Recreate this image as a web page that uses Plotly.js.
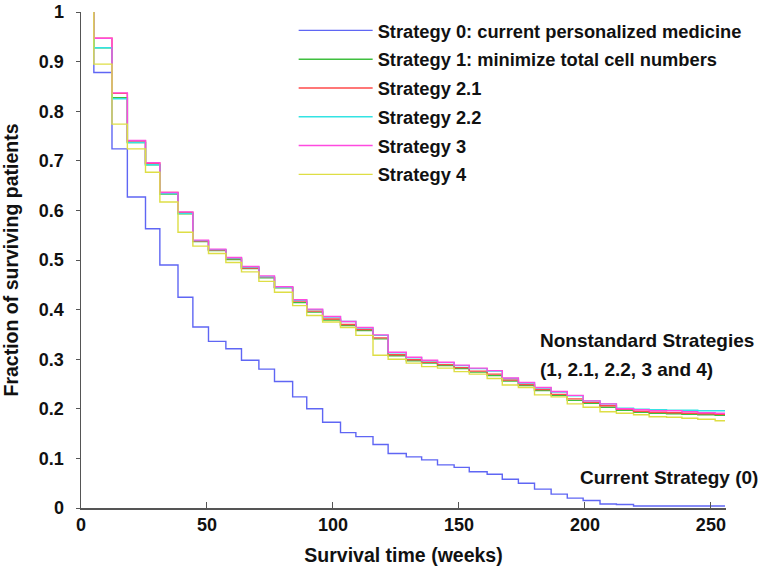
<!DOCTYPE html>
<html>
<head>
<meta charset="utf-8">
<script src="https://cdn.plot.ly/plotly-3.0.1.min.js"></script>
<style>html,body{margin:0;padding:0;background:#fff;}#chart{width:775px;height:569px;}</style>
</head>
<body>
<div id="chart"></div>
<script>
// Step times (weeks) at which the survival fraction changes
const weeks = [5.1, 12.3, 18.4, 25.6, 31.3, 38.5, 44.4, 50.6, 57.5, 63.7, 70.6, 76.8, 84.0, 89.6, 95.9, 103.0, 109.1, 115.9, 121.9, 129.1, 135.2, 141.5, 148.1, 154.1, 161.2, 167.2, 173.6, 180.0, 186.6, 193.0, 199.3, 206.0, 212.5, 219.3, 225.5, 232.4, 238.5, 244.8, 251.7];
const endWeek = 255.6;

const seriesNames = ["Strategy 0: current personalized medicine", "Strategy 1: minimize total cell numbers", "Strategy 2.1", "Strategy 2.2", "Strategy 3", "Strategy 4"];

const strategy0 = [0.878, 0.724, 0.627, 0.563, 0.490, 0.425, 0.365, 0.336, 0.321, 0.298, 0.280, 0.255, 0.224, 0.200, 0.173, 0.152, 0.144, 0.128, 0.110, 0.103, 0.097, 0.087, 0.082, 0.073, 0.068, 0.058, 0.050, 0.038, 0.028, 0.020, 0.015, 0.008, 0.007, 0.004, 0.004, 0.004, 0.004, 0.004, 0.004];
const strategy1 = [0.928, 0.827, 0.737, 0.692, 0.633, 0.593, 0.537, 0.519, 0.501, 0.483, 0.464, 0.444, 0.414, 0.395, 0.379, 0.368, 0.358, 0.341, 0.307, 0.297, 0.292, 0.287, 0.281, 0.274, 0.267, 0.256, 0.247, 0.237, 0.227, 0.217, 0.211, 0.203, 0.197, 0.193, 0.191, 0.190, 0.189, 0.188, 0.187];
const strategy21 = [0.947, 0.836, 0.740, 0.695, 0.636, 0.596, 0.538, 0.520, 0.503, 0.484, 0.465, 0.445, 0.417, 0.397, 0.381, 0.370, 0.360, 0.343, 0.309, 0.299, 0.294, 0.289, 0.283, 0.276, 0.270, 0.258, 0.249, 0.239, 0.229, 0.220, 0.213, 0.206, 0.199, 0.195, 0.193, 0.192, 0.191, 0.190, 0.189];
const strategy22 = [0.928, 0.825, 0.737, 0.692, 0.634, 0.594, 0.539, 0.521, 0.504, 0.486, 0.466, 0.445, 0.419, 0.400, 0.385, 0.376, 0.363, 0.348, 0.313, 0.303, 0.297, 0.293, 0.287, 0.281, 0.276, 0.261, 0.252, 0.242, 0.234, 0.226, 0.216, 0.210, 0.201, 0.199, 0.198, 0.197, 0.197, 0.196, 0.196];
const strategy3 = [0.947, 0.837, 0.741, 0.696, 0.636, 0.597, 0.540, 0.522, 0.505, 0.487, 0.468, 0.446, 0.420, 0.401, 0.386, 0.376, 0.364, 0.349, 0.314, 0.304, 0.298, 0.294, 0.288, 0.282, 0.277, 0.262, 0.253, 0.243, 0.235, 0.227, 0.216, 0.210, 0.200, 0.198, 0.196, 0.196, 0.194, 0.192, 0.191];
const strategy4 = [0.895, 0.774, 0.724, 0.677, 0.617, 0.556, 0.528, 0.513, 0.495, 0.476, 0.457, 0.435, 0.408, 0.388, 0.375, 0.364, 0.348, 0.308, 0.300, 0.292, 0.285, 0.282, 0.275, 0.270, 0.261, 0.248, 0.243, 0.228, 0.224, 0.210, 0.203, 0.194, 0.191, 0.188, 0.184, 0.183, 0.181, 0.179, 0.176];

const xTicks = [0, 50, 100, 150, 200, 250];

const allSeries = [strategy0, strategy1, strategy21, strategy22, strategy3, strategy4];
const colors = ["#5f66f4", "#3fbf3f", "#ff4a4a", "#33e3e3", "#ff4ae0", "#dede45"];

const FONT = "Liberation Sans, Arial, sans-serif";

const traces = allSeries.map(function (vals, i) {
  const x = [weeks[0]].concat(weeks, [endWeek]);
  const y = [1].concat(vals, [vals[vals.length - 1]]);
  return {
    x: x, y: y, type: "scatter", mode: "lines",
    name: seriesNames[i],
    legendgroup: "g" + i,
    line: {shape: "hv", color: colors[i], width: 1.4}
  };
});

const layout = {
  width: 775, height: 569,
  margin: {l: 81, r: 49, t: 12, b: 61},
  paper_bgcolor: "#fff", plot_bgcolor: "#fff",
  font: {family: FONT, color: "#111", size: 18},
  showlegend: true,
  legend: {
    x: 0.3297, y: 1.0, xanchor: "left", yanchor: "top",
    bgcolor: "rgba(0,0,0,0)",
    font: {family: FONT, size: 18.3, weight: "bold", color: "#111"},
    traceorder: "grouped", tracegroupgap: 2,
    itemwidth: 74
  },
  xaxis: {
    range: [0, 256], tickvals: xTicks, ticks: "inside", ticklen: 6, tickcolor: "#555",
    showline: true, linecolor: "#555", linewidth: 1.5, showgrid: false, zeroline: false,
    tickfont: {family: FONT, size: 18, weight: "bold", color: "#111"},
    title: {text: "Survival time (weeks)", font: {family: FONT, size: 19.5, weight: "bold", color: "#111"}, standoff: 14}
  },
  yaxis: {
    range: [0, 1], dtick: 0.1, ticks: "outside", ticklen: 4, tickcolor: "#555",
    showline: true, linecolor: "#555", linewidth: 1.5, showgrid: false, zeroline: false,
    ticklabelstandoff: 8,
    tickfont: {family: FONT, size: 18, weight: "bold", color: "#111"},
    title: {text: "Fraction of surviving patients", font: {family: FONT, size: 19.5, weight: "bold", color: "#111"}, standoff: 24}
  },
  annotations: [
    {xref: "paper", yref: "paper", x: 0.708, y: 0.337, xanchor: "left", yanchor: "middle", showarrow: false,
     text: "Nonstandard Strategies", font: {family: FONT, size: 19, weight: "bold", color: "#111"}},
    {xref: "paper", yref: "paper", x: 0.708, y: 0.280, xanchor: "left", yanchor: "middle", showarrow: false,
     text: "(1, 2.1, 2.2, 3 and 4)", font: {family: FONT, size: 19, weight: "bold", color: "#111"}},
    {xref: "paper", yref: "paper", x: 1.053, y: 0.0625, xanchor: "right", yanchor: "middle", showarrow: false,
     text: "Current Strategy (0)", font: {family: FONT, size: 19, weight: "bold", color: "#111"}}
  ]
};

Plotly.newPlot("chart", traces, layout, {displayModeBar: false, staticPlot: true});
</script>
</body>
</html>
